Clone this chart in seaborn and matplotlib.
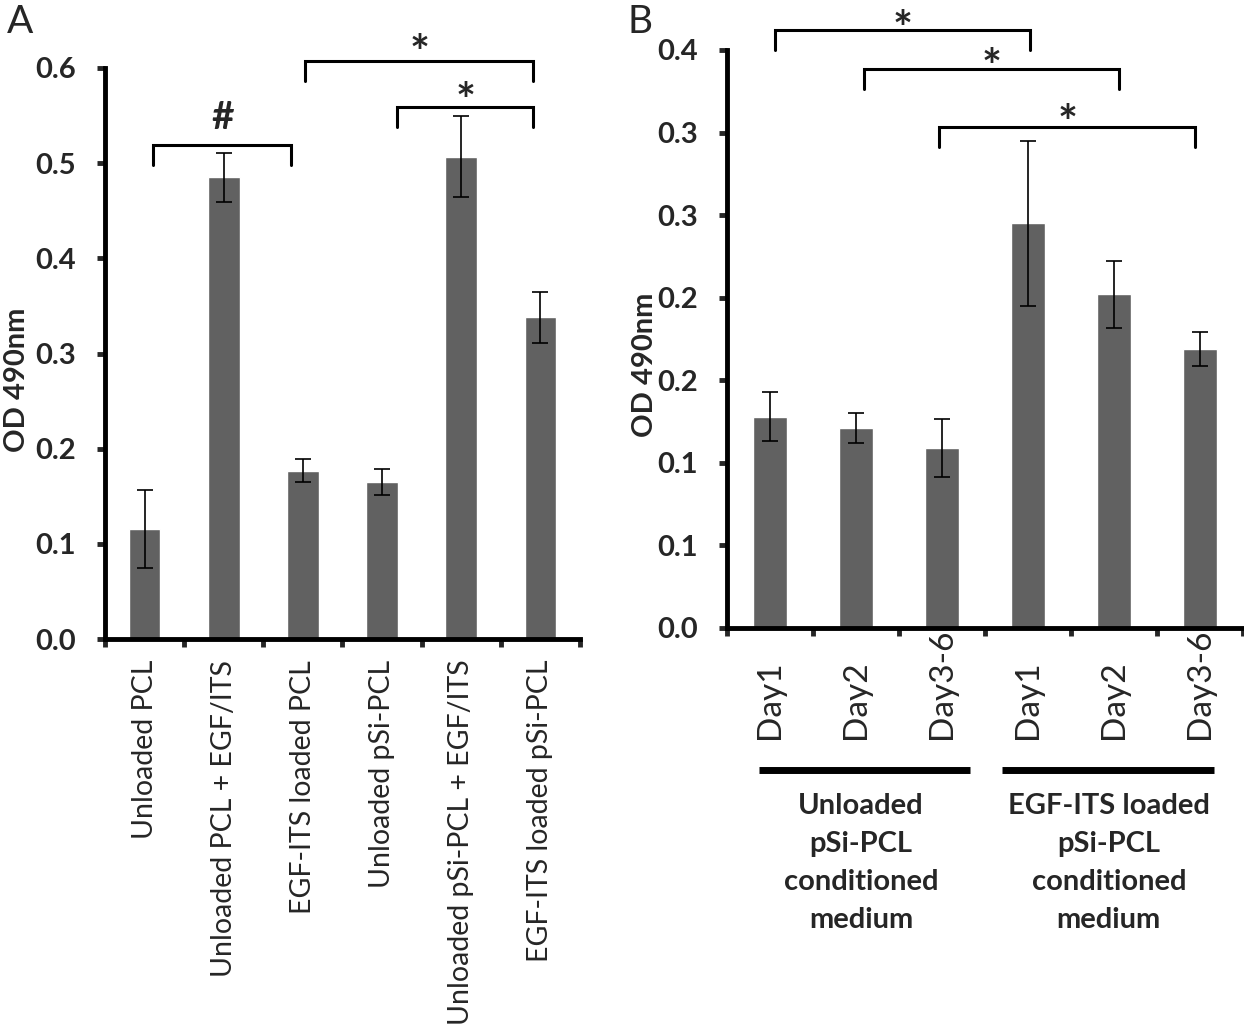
import numpy as np
import pandas as pd
import matplotlib
matplotlib.use("Agg")
import matplotlib.pyplot as plt
import matplotlib.transforms as mtransforms
import seaborn as sns

sns.set_style("ticks")
plt.rcParams['font.family'] = ['Lato', 'DejaVu Sans']

# ---- data, panel A ----
labels_a = ["Unloaded PCL", "Unloaded PCL + EGF/ITS", "EGF-ITS loaded PCL",
            "Unloaded pSi-PCL", "Unloaded pSi-PCL + EGF/ITS", "EGF-ITS loaded pSi-PCL"]
od_a = [0.116, 0.485, 0.177, 0.165, 0.507, 0.338]
err_a = [0.041, 0.026, 0.012, 0.014, 0.043, 0.027]
yticks_a = [0.0, 0.1, 0.2, 0.3, 0.4, 0.5, 0.6]
yticklabels_a = ["0.0", "0.1", "0.2", "0.3", "0.4", "0.5", "0.6"]

# ---- data, panel B ----
groups_b = ["Unloaded\npSi-PCL\nconditioned\nmedium",
            "EGF-ITS loaded\npSi-PCL\nconditioned\nmedium"]
days_b = ["Day1", "Day2", "Day3-6", "Day1", "Day2", "Day3-6"]
group_of_b = [0, 0, 0, 1, 1, 1]
od_b = [0.128, 0.121, 0.109, 0.245, 0.202, 0.169]
err_b = [0.015, 0.009, 0.0175, 0.050, 0.0205, 0.0103]
yticks_b = [0.0, 0.05, 0.10, 0.15, 0.20, 0.25, 0.30, 0.35]
yticklabels_b = ["0.0", "0.1", "0.1", "0.2", "0.2", "0.3", "0.3", "0.4"]

# significance brackets: (left x, right x, bar height, symbol baseline, symbol, size)
sig_a = [(0.11, 1.85, 0.519, 0.536, "#", 28),
         (2.03, 4.91, 0.607, 0.599, "*", 34),
         (3.19, 4.91, 0.559, 0.5485, "*", 34)]
sig_b = [(0.06, 3.02, 0.362, 0.353, "*", 34),
         (1.09, 4.06, 0.3385, 0.330, "*", 34),
         (1.97, 4.94, 0.3033, 0.296, "*", 34)]

BAR = "#616161"
FS = 21


def style_axis(ax, n):
    for side in ["top", "right"]:
        ax.spines[side].set_visible(False)
    for side in ["left", "bottom"]:
        ax.spines[side].set_linewidth(3.5)
        ax.spines[side].set_color("black")
    ax.set_xlim(-0.5, n - 0.5)
    ax.set_xticks(np.arange(-0.5, n, 1.0))
    ax.set_xticklabels([])
    ax.tick_params(axis="x", which="major", direction="out", length=6, width=3.5)
    ax.tick_params(axis="y", which="major", direction="out", length=6, width=3.5,
                   pad=15, labelsize=FS)
    for t in ax.get_yticklabels():
        t.set_fontweight("bold")
    ax.set_xlabel("")


def draw_brackets(ax, sig, drop):
    for x0, x1, y, ys, sym, fs in sig:
        ax.plot([x0, x0, x1, x1], [y - drop, y, y, y - drop], color="black",
                lw=2.2, clip_on=False, solid_joinstyle="miter")
        ax.text((x0 + x1) / 2, ys, sym, ha="center", va="baseline",
                fontsize=fs, fontweight="bold", clip_on=False)


fig = plt.figure(figsize=(12.44, 10.27), dpi=100)

# ---------------- panel A ----------------
axA = fig.add_axes([105 / 1244, 1 - 639 / 1027, 475 / 1244, 571 / 1027])
df_a = pd.DataFrame({"group": labels_a, "od": od_a})
sns.barplot(data=df_a, x="group", y="od", order=labels_a, color=BAR,
            saturation=1, width=0.4, errorbar=None, ax=axA)
axA.errorbar(np.arange(len(od_a)), od_a, yerr=err_a, fmt="none", ecolor="black",
             elinewidth=1.2, capsize=5.5, capthick=1.2)
axA.set_ylim(0, 0.6)
axA.set_yticks(yticks_a, yticklabels_a)
style_axis(axA, len(labels_a))
axA.set_xticks(np.arange(len(labels_a)), labels_a, minor=True)
axA.tick_params(axis="x", which="minor", length=0, pad=15, labelsize=20.5)
for t in axA.get_xticklabels(minor=True):
    t.set_rotation(90)
    t.set_va("top")
axA.set_ylabel("OD 490nm", fontsize=FS, fontweight="bold")
axA.yaxis.set_label_coords(-0.158, 0.4536)
draw_brackets(axA, sig_a, 0.021)

# ---------------- panel B ----------------
axB = fig.add_axes([727 / 1244, 1 - 628 / 1027, 516 / 1244, 578 / 1027])
keys_b = [f"{g}-{d}" for g, d in zip(group_of_b, days_b)]
df_b = pd.DataFrame({"key": keys_b, "od": od_b})
sns.barplot(data=df_b, x="key", y="od", order=keys_b, color=BAR,
            saturation=1, width=0.4, errorbar=None, ax=axB)
axB.errorbar(np.arange(len(od_b)), od_b, yerr=err_b, fmt="none", ecolor="black",
             elinewidth=1.2, capsize=5.5, capthick=1.2)
axB.set_ylim(0, 0.35)
axB.set_yticks(yticks_b, yticklabels_b)
style_axis(axB, len(days_b))
axB.set_xticks(np.arange(len(days_b)), days_b, minor=True)
axB.tick_params(axis="x", which="minor", length=0, pad=80, labelsize=24)
for t in axB.get_xticklabels(minor=True):
    t.set_rotation(90)
    t.set_va("bottom")
axB.set_ylabel("OD 490nm", fontsize=FS, fontweight="bold")
axB.yaxis.set_label_coords(-0.134, 0.455)
draw_brackets(axB, sig_b, 0.012)

# group lines and captions under panel B
trans = mtransforms.blended_transform_factory(axB.transData, axB.transAxes)
for (x0, x1), xc, txt in zip([(-0.13, 2.33), (2.70, 5.16)], [1.06, 3.94], groups_b):
    axB.plot([x0, x1], [-0.245, -0.245], color="black", lw=5, transform=trans,
             clip_on=False, solid_capstyle="butt")
    axB.text(xc, -0.285, txt, transform=trans, ha="center", va="top",
             fontsize=FS, fontweight="bold", linespacing=1.58)

fig.text(7 / 1244, 1 - 4 / 1027, "A", ha="left", va="top", fontsize=28)
fig.text(628 / 1244, 1 - 4 / 1027, "B", ha="left", va="top", fontsize=28)

fig.savefig("out.png", dpi=100, facecolor="white")
